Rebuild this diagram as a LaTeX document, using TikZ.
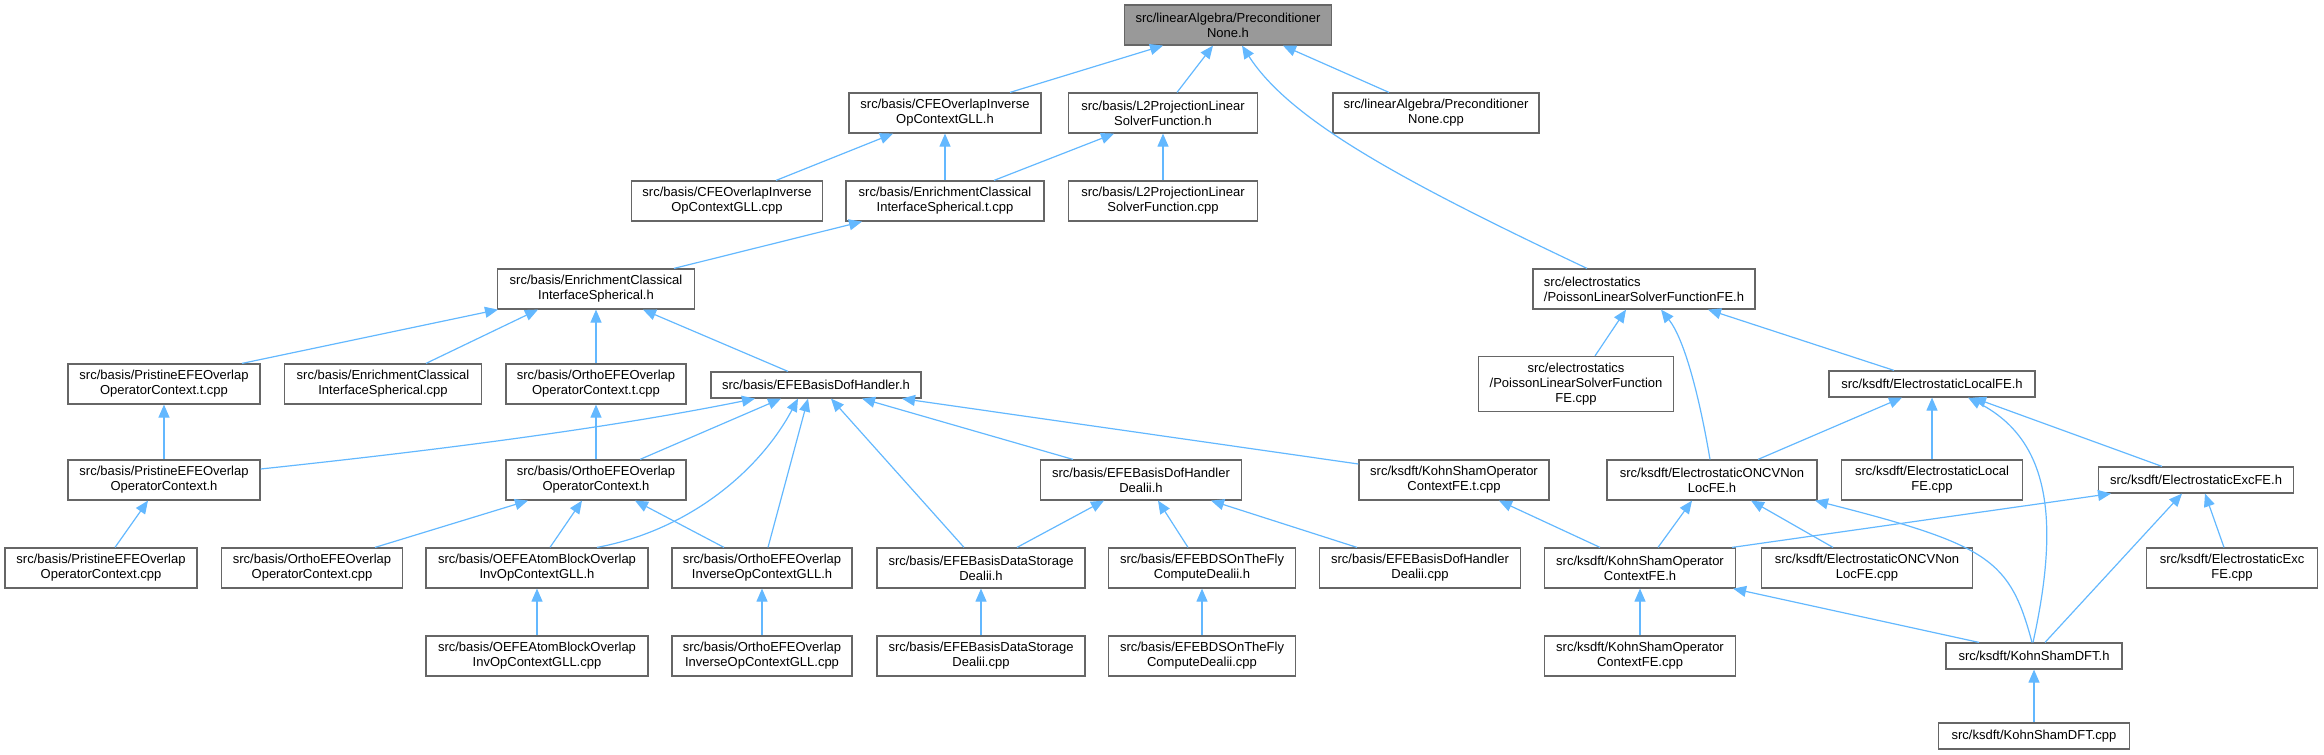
\documentclass[tikz,border=0pt]{standalone}
\usepackage{fontspec}
\setmainfont{Liberation Sans}
\usetikzlibrary{arrows.meta}
\definecolor{edgeblue}{HTML}{63B8FF}
\definecolor{boxline}{HTML}{666666}
\definecolor{rootfill}{HTML}{999999}
\tikzset{
  box/.style={draw=boxline, fill=white, line width=1.2pt, inner sep=0pt, align=center,
    font=\fontsize{13}{15}\selectfont, text=black},
  two/.style={minimum height=40pt},
  one/.style={minimum height=26pt},
  three/.style={minimum height=55pt},
  e/.style={draw=edgeblue, line width=1.2pt, -{Triangle[length=13pt,width=11pt]}, fill=none},
}
\begin{document}
\begin{tikzpicture}[x=1pt,y=-1pt]
\useasboundingbox (0,0) rectangle (2324,755);
% row 0
\node[box,two,fill=rootfill,minimum width=207pt] (root) at (1228,25) {src/linearAlgebra/Preconditioner\\None.h};
% row 1
\node[box,two,minimum width=192pt] (cfeH) at (945,113) {src/basis/CFEOverlapInverse\\OpContextGLL.h};
\node[box,two,minimum width=189pt] (l2H) at (1163,113) {src/basis/L2ProjectionLinear\\SolverFunction.h};
\node[box,two,minimum width=206pt] (precCpp) at (1436,113) {src/linearAlgebra/Preconditioner\\None.cpp};
% row 2
\node[box,two,minimum width=191pt] (cfeCpp) at (727,201) {src/basis/CFEOverlapInverse\\OpContextGLL.cpp};
\node[box,two,minimum width=198pt] (ecisT) at (945,201) {src/basis/EnrichmentClassical\\InterfaceSpherical.t.cpp};
\node[box,two,minimum width=189pt] (l2Cpp) at (1163,201) {src/basis/L2ProjectionLinear\\SolverFunction.cpp};
% row 3
\node[box,two,minimum width=197pt] (ecisH) at (596,289) {src/basis/EnrichmentClassical\\InterfaceSpherical.h};
\node[box,two,minimum width=222pt,align=left] (poisH) at (1644,289) {src/electrostatics\\/PoissonLinearSolverFunctionFE.h};
% row 4
\node[box,two,minimum width=192pt] (prisT) at (164,384) {src/basis/PristineEFEOverlap\\OperatorContext.t.cpp};
\node[box,two,minimum width=197pt] (ecisCpp) at (383,384) {src/basis/EnrichmentClassical\\InterfaceSpherical.cpp};
\node[box,two,minimum width=180pt] (orthoT) at (596,384) {src/basis/OrthoEFEOverlap\\OperatorContext.t.cpp};
\node[box,one,minimum width=210pt] (dofH) at (816,385) {src/basis/EFEBasisDofHandler.h};
\node[box,three,minimum width=195pt] (poisCpp) at (1576,384) {src/electrostatics\\/PoissonLinearSolverFunction\\FE.cpp};
\node[box,one,minimum width=206pt] (elocH) at (1932,384) {src/ksdft/ElectrostaticLocalFE.h};
% row 5
\node[box,two,minimum width=192pt] (prisH) at (164,480) {src/basis/PristineEFEOverlap\\OperatorContext.h};
\node[box,two,minimum width=180pt] (orthoH) at (596,480) {src/basis/OrthoEFEOverlap\\OperatorContext.h};
\node[box,two,minimum width=201pt] (dofDH) at (1141,480) {src/basis/EFEBasisDofHandler\\Dealii.h};
\node[box,two,minimum width=190pt] (ksTcpp) at (1454,480) {src/ksdft/KohnShamOperator\\ContextFE.t.cpp};
\node[box,two,minimum width=210pt] (oncvH) at (1712,480) {src/ksdft/ElectrostaticONCVNon\\LocFE.h};
\node[box,two,minimum width=181pt] (elocCpp) at (1932,480) {src/ksdft/ElectrostaticLocal\\FE.cpp};
\node[box,one,minimum width=195pt] (excH) at (2196,480) {src/ksdft/ElectrostaticExcFE.h};
% row 6
\node[box,two,minimum width=192pt] (prisCpp) at (101,568) {src/basis/PristineEFEOverlap\\OperatorContext.cpp};
\node[box,two,minimum width=181pt] (orthoCpp) at (312,568) {src/basis/OrthoEFEOverlap\\OperatorContext.cpp};
\node[box,two,minimum width=222pt] (oefeH) at (537,568) {src/basis/OEFEAtomBlockOverlap\\InvOpContextGLL.h};
\node[box,two,minimum width=180pt] (orthoInvH) at (762,568) {src/basis/OrthoEFEOverlap\\InverseOpContextGLL.h};
\node[box,two,minimum width=208pt] (edsH) at (981,568) {src/basis/EFEBasisDataStorage\\Dealii.h};
\node[box,two,minimum width=187pt] (bdsH) at (1202,568) {src/basis/EFEBDSOnTheFly\\ComputeDealii.h};
\node[box,two,minimum width=201pt] (dofDCpp) at (1420,568) {src/basis/EFEBasisDofHandler\\Dealii.cpp};
\node[box,two,minimum width=191pt] (ksH) at (1640,568) {src/ksdft/KohnShamOperator\\ContextFE.h};
\node[box,two,minimum width=211pt] (oncvCpp) at (1867,568) {src/ksdft/ElectrostaticONCVNon\\LocFE.cpp};
\node[box,two,minimum width=171pt] (excCpp) at (2232,568) {src/ksdft/ElectrostaticExc\\FE.cpp};
% row 7
\node[box,two,minimum width=222pt] (oefeCpp) at (537,656) {src/basis/OEFEAtomBlockOverlap\\InvOpContextGLL.cpp};
\node[box,two,minimum width=180pt] (orthoInvCpp) at (762,656) {src/basis/OrthoEFEOverlap\\InverseOpContextGLL.cpp};
\node[box,two,minimum width=208pt] (edsCpp) at (981,656) {src/basis/EFEBasisDataStorage\\Dealii.cpp};
\node[box,two,minimum width=187pt] (bdsCpp) at (1202,656) {src/basis/EFEBDSOnTheFly\\ComputeDealii.cpp};
\node[box,two,minimum width=191pt] (ksCpp) at (1640,656) {src/ksdft/KohnShamOperator\\ContextFE.cpp};
\node[box,one,minimum width=176pt] (ksdftH) at (2034,656) {src/ksdft/KohnShamDFT.h};
% row 8
\node[box,one,minimum width=191pt] (ksdftCpp) at (2034,736) {src/ksdft/KohnShamDFT.cpp};

% edges (child -> parent)
\draw[e] ([xshift=65pt]cfeH.north) -- ([xshift=-65pt]root.south);
\draw[e] ([xshift=14pt]l2H.north) -- ([xshift=-15pt]root.south);
\draw[e] ([xshift=-57pt]poisH.north) .. controls (1400,180) and (1290,120) .. ([xshift=14pt]root.south);
\draw[e] ([xshift=-47pt]precCpp.north) -- ([xshift=55pt]root.south);
\draw[e] ([xshift=49pt]cfeCpp.north) -- ([xshift=-52pt]cfeH.south);
\draw[e] (ecisT.north) -- (cfeH.south);
\draw[e] ([xshift=49pt]ecisT.north) -- ([xshift=-49pt]l2H.south);
\draw[e] (l2Cpp.north) -- (l2H.south);
\draw[e] ([xshift=78pt]ecisH.north) -- ([xshift=-83pt]ecisT.south);
\draw[e] ([xshift=78pt]prisT.north) -- ([xshift=-98pt]ecisH.south);
\draw[e] ([xshift=43pt]ecisCpp.north) -- ([xshift=-58pt]ecisH.south);
\draw[e] (orthoT.north) -- (ecisH.south);
\draw[e] ([xshift=-28pt]dofH.north) -- ([xshift=47pt]ecisH.south);
\draw[e] (prisH.north) -- (prisT.south);
\draw[e] ([yshift=11pt]prisH.east) .. controls (420,452) and (600,430) .. ([xshift=-61pt]dofH.south);
\draw[e] (orthoH.north) -- (orthoT.south);
\draw[e] ([xshift=44pt]orthoH.north) -- ([xshift=-35pt]dofH.south);
\draw[e] ([xshift=60pt]oefeH.north) .. controls (690,530) and (760,470) .. ([xshift=-18pt]dofH.south);
\draw[e] ([xshift=6pt]orthoInvH.north) -- ([xshift=-8pt]dofH.south);
\draw[e] ([xshift=-17pt]edsH.north) -- ([xshift=15pt]dofH.south);
\draw[e] ([xshift=-68pt]dofDH.north) -- ([xshift=46pt]dofH.south);
\draw[e] ([yshift=16pt]ksTcpp.west) -- ([xshift=86pt]dofH.south);
\draw[e] ([xshift=14pt]prisCpp.north) -- ([xshift=-16pt]prisH.south);
\draw[e] ([xshift=63pt]orthoCpp.north) -- ([xshift=-68pt]orthoH.south);
\draw[e] ([xshift=13pt]oefeH.north) -- ([xshift=-14pt]orthoH.south);
\draw[e] ([xshift=-38pt]orthoInvH.north) -- ([xshift=39pt]orthoH.south);
\draw[e] (oefeCpp.north) -- (oefeH.south);
\draw[e] (orthoInvCpp.north) -- (orthoInvH.south);
\draw[e] ([xshift=36pt]edsH.north) -- ([xshift=-37pt]dofDH.south);
\draw[e] ([xshift=-14pt]bdsH.north) -- ([xshift=17pt]dofDH.south);
\draw[e] ([xshift=-63pt]dofDCpp.north) -- ([xshift=70pt]dofDH.south);
\draw[e] (edsCpp.north) -- (edsH.south);
\draw[e] (bdsCpp.north) -- (bdsH.south);
\draw[e] ([xshift=-40pt]ksH.north) -- ([xshift=45pt]ksTcpp.south);
\draw[e] ([xshift=19pt]poisCpp.north) -- ([xshift=-18pt]poisH.south);
\draw[e] ([xshift=-2pt]oncvH.north) .. controls (1700,400) and (1685,340) .. ([xshift=17pt]poisH.south);
\draw[e] ([xshift=-38pt]elocH.north) -- ([xshift=64pt]poisH.south);
\draw[e] ([xshift=46pt]oncvH.north) -- ([xshift=-30pt]elocH.south);
\draw[e] (elocCpp.north) -- (elocH.south);
\draw[e] ([xshift=-34pt]excH.north) -- ([xshift=41pt]elocH.south);
\draw[e] ([xshift=-1pt]ksdftH.north) .. controls (2060,520) and (2050,440) .. ([xshift=36pt]elocH.south);
\draw[e] ([xshift=18pt]ksH.north) -- ([xshift=-20pt]oncvH.south);
\draw[e] ([xshift=-34pt]oncvCpp.north) -- ([xshift=39pt]oncvH.south);
\draw[e] ([xshift=-2pt]ksdftH.north) .. controls (2010,560) and (1990,545) .. ([xshift=103pt]oncvH.south);
\draw[e] ([xshift=-4pt]ksH.north east) -- ([xshift=-85pt]excH.south);
\draw[e] ([xshift=11pt]ksdftH.north) -- ([xshift=-14pt]excH.south);
\draw[e] ([xshift=-8pt]excCpp.north) -- ([xshift=9pt]excH.south);
\draw[e] (ksCpp.north) -- (ksH.south);
\draw[e] ([xshift=-55pt]ksdftH.north) -- ([xshift=-3pt]ksH.south east);
\draw[e] (ksdftCpp.north) -- (ksdftH.south);
\end{tikzpicture}
\end{document}
